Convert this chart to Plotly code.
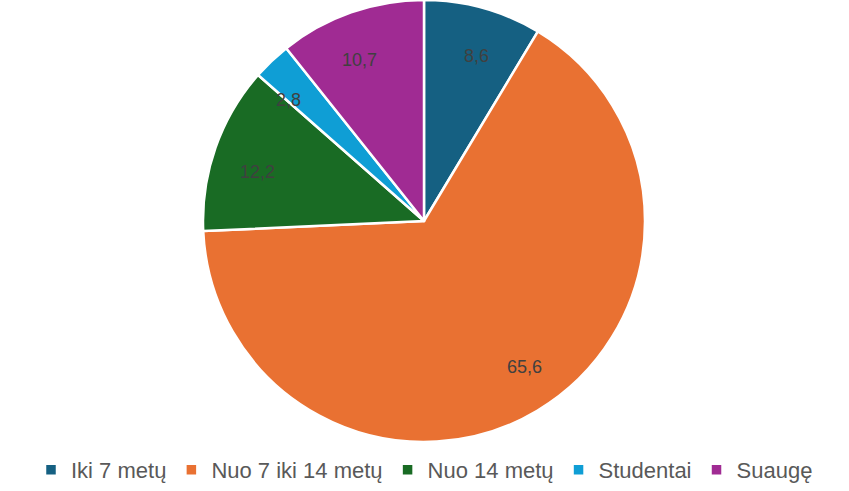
import numpy as np
import plotly.graph_objects as go

categories = ["Iki 7 metų", "Nuo 7 iki 14 metų", "Nuo 14 metų", "Studentai", "Suaugę"]
values = [8.6, 65.6, 12.2, 2.8, 10.7]
colors = ["#156082", "#E97132", "#196B24", "#0F9ED5", "#A02B93"]

W, H = 849, 491
cx, cy, d = 424, 221, 442
label_rx, label_ry = 0.89, 0.83

fig = go.Figure(go.Pie(
    labels=categories,
    values=values,
    sort=False,
    direction="clockwise",
    rotation=0,
    marker=dict(colors=colors, line=dict(color="white", width=2.5)),
    textinfo="none",
    hoverinfo="label+value",
    domain=dict(x=[(cx - d / 2) / W, (cx + d / 2) / W],
                y=[1 - (cy + d / 2) / H, 1 - (cy - d / 2) / H]),
))

# value labels placed at mid-angle of each slice (computed from the data)
vals = np.array(values)
cum = np.cumsum(vals) - vals / 2
theta = 2 * np.pi * cum / vals.sum()
for v, t in zip(values, theta):
    px = cx + label_rx * d / 2 * np.sin(t)
    py = cy - label_ry * d / 2 * np.cos(t)
    fig.add_annotation(x=px / W, y=1 - py / H, xref="paper", yref="paper",
                       text=f"{v:.1f}".replace(".", ","), showarrow=False,
                       font=dict(color="#404040", size=18, family="Liberation Sans"))

fig.update_layout(
    width=W, height=H,
    margin=dict(l=0, r=0, t=0, b=0),
    paper_bgcolor="white",
    plot_bgcolor="white",
    separators=",.",
    showlegend=True,
    legend=dict(orientation="h", x=0.5, xanchor="center", y=0.0, yanchor="bottom",
                font=dict(size=22, color="#595959", family="Liberation Sans"),
                itemwidth=30, traceorder="normal"),
    font=dict(family="Liberation Sans"),
)

fig.write_html("out.html", post_script="document.body.style.margin='0';",
               config={"displayModeBar": False})
